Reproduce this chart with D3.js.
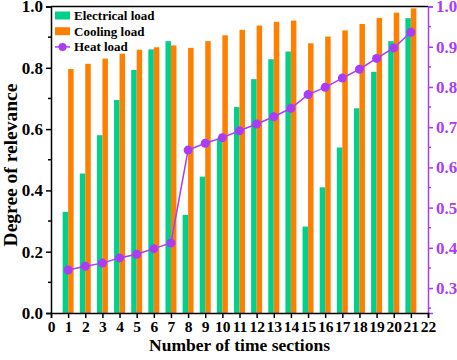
<!DOCTYPE html>
<html>
<head>
<meta charset="utf-8">
<script src="https://cdn.jsdelivr.net/npm/d3@7"></script>
<style>
  body { margin: 0; background: #fff; }
  svg text { font-family: "Liberation Serif", "Times New Roman", serif; font-weight: bold; }
</style>
</head>
<body>
<script>
// time sections and the three series
const sections = d3.range(1, 22);
const electrical = [0.33, 0.455, 0.58, 0.695, 0.793, 0.86, 0.887, 0.32, 0.445, 0.57, 0.672,
  0.763, 0.828, 0.853, 0.282, 0.41, 0.54, 0.668, 0.787, 0.887, 0.962];
const cooling = [0.796, 0.813, 0.83, 0.846, 0.859, 0.867, 0.873, 0.865, 0.887, 0.906, 0.924,
  0.938, 0.95, 0.954, 0.88, 0.902, 0.922, 0.943, 0.963, 0.98, 0.994];
const heat = [0.345, 0.354, 0.362, 0.375, 0.384, 0.398, 0.412, 0.643, 0.66, 0.674, 0.691,
  0.708, 0.726, 0.747, 0.781, 0.799, 0.822, 0.844, 0.871, 0.897, 0.936];
const xTicks = d3.range(0, 23);
const leftTicks = [0, 0.2, 0.4, 0.6, 0.8, 1.0];
const leftMinor = [0.1, 0.3, 0.5, 0.7, 0.9];
const rightTicks = [0.3, 0.4, 0.5, 0.6, 0.7, 0.8, 0.9, 1.0];
const rightMinor = [0.25, 0.35, 0.45, 0.55, 0.65, 0.75, 0.85, 0.95];

const W = 457, H = 360;
const pLeft = 51, pRight = 428, pTop = 6.5, pBottom = 313;
const green = "#00d08a", orange = "#ff8000", purple = "#aa3cf6";

const svg = d3.select("body").append("svg")
  .attr("width", W).attr("height", H);

const x = d3.scaleLinear().domain([0, 22]).range([pLeft, pRight]);
const y = d3.scaleLinear().domain([0, 1]).range([pBottom, pTop]);
const y2 = d3.scaleLinear().domain([0.238, 1.0]).range([pBottom, pTop]);

const bw = x(0.32) - x(0);

// bars
svg.append("g").selectAll("rect")
  .data(electrical)
  .enter().append("rect")
  .attr("x", (d, i) => x(sections[i]) - bw)
  .attr("y", d => y(d))
  .attr("width", bw)
  .attr("height", d => y(0) - y(d))
  .attr("fill", green);

svg.append("g").selectAll("rect")
  .data(cooling)
  .enter().append("rect")
  .attr("x", (d, i) => x(sections[i]))
  .attr("y", d => y(d))
  .attr("width", bw)
  .attr("height", d => y(0) - y(d))
  .attr("fill", orange);

// heat load line
const line = d3.line()
  .x((d, i) => x(sections[i]))
  .y(d => y2(d));

svg.append("path")
  .datum(heat)
  .attr("d", line)
  .attr("fill", "none")
  .attr("stroke", purple)
  .attr("stroke-width", 1.5);

svg.append("g").selectAll("circle")
  .data(heat)
  .enter().append("circle")
  .attr("cx", (d, i) => x(sections[i]))
  .attr("cy", d => y2(d))
  .attr("r", 4.5)
  .attr("fill", purple);

// top frame line
svg.append("line")
  .attr("x1", pLeft).attr("x2", pRight)
  .attr("y1", pTop).attr("y2", pTop)
  .attr("stroke", "#000").attr("stroke-width", 1.5);

// left axis
const yAxis = d3.axisLeft(y).tickValues(leftTicks).tickFormat(d3.format(".1f")).tickSize(5).tickPadding(3);
const gy = svg.append("g").attr("transform", `translate(${pLeft},0)`).call(yAxis);
gy.selectAll("line.minor").data(leftMinor).enter().append("line")
  .attr("class", "minor")
  .attr("x1", -3).attr("x2", 0)
  .attr("y1", d => y(d)).attr("y2", d => y(d))
  .attr("stroke", "#000").attr("stroke-width", 1.5);

// right axis
const yAxis2 = d3.axisRight(y2).tickValues(rightTicks).tickFormat(d3.format(".1f")).tickSize(5).tickPadding(3);
const gy2 = svg.append("g").attr("transform", `translate(${pRight},0)`).call(yAxis2);
gy2.selectAll("line.minor").data(rightMinor).enter().append("line")
  .attr("class", "minor")
  .attr("x1", 0).attr("x2", 3)
  .attr("y1", d => y2(d)).attr("y2", d => y2(d))
  .attr("stroke", purple).attr("stroke-width", 1.5);

// bottom axis
const xAxis = d3.axisBottom(x).tickValues(xTicks).tickFormat(d3.format("d")).tickSize(5).tickPadding(3);
const gx = svg.append("g").attr("transform", `translate(0,${pBottom})`).call(xAxis);

[gy, gx, gy2].forEach(g => g.attr("font-family", null).attr("font-size", null));

[gy, gx].forEach(g => {
  g.select(".domain").attr("stroke", "#000").attr("stroke-width", 1.5);
  g.selectAll(".tick line").attr("stroke", "#000").attr("stroke-width", 1.5);
  g.selectAll(".tick text").attr("fill", "#000").style("font-size", "17px");
});
gx.selectAll(".tick text").style("font-size", "15.5px");
gy2.select(".domain").attr("stroke", purple).attr("stroke-width", 1.5);
gy2.selectAll(".tick line").attr("stroke", purple).attr("stroke-width", 1.5);
gy2.selectAll(".tick text").attr("fill", purple).style("font-size", "17px");

// axis titles
svg.append("text")
  .attr("x", (pLeft + pRight) / 2).attr("y", 351)
  .attr("text-anchor", "middle")
  .style("font-size", "17.5px")
  .text("Number of time sections");

svg.append("text")
  .attr("transform", `translate(17,165) rotate(-90)`)
  .attr("text-anchor", "middle")
  .style("font-size", "19.5px")
  .text("Degree of relevance");

// legend
const legend = [
  { name: "Electrical load", type: "bar", color: green },
  { name: "Cooling load", type: "bar", color: orange },
  { name: "Heat load", type: "line", color: purple }
];
const lg = svg.append("g").selectAll("g")
  .data(legend)
  .enter().append("g")
  .attr("transform", (d, i) => `translate(55,${15.5 + i * 15.7})`);

lg.filter(d => d.type === "bar").append("rect")
  .attr("x", 0).attr("y", -4).attr("width", 15).attr("height", 8)
  .attr("fill", d => d.color);
lg.filter(d => d.type === "line").append("line")
  .attr("x1", 0).attr("x2", 15).attr("y1", 0).attr("y2", 0)
  .attr("stroke", d => d.color).attr("stroke-width", 1.5);
lg.filter(d => d.type === "line").append("circle")
  .attr("cx", 7.5).attr("cy", 0).attr("r", 4)
  .attr("fill", d => d.color);
lg.append("text")
  .attr("x", 19).attr("y", 0).attr("dy", "0.35em")
  .style("font-size", "13px")
  .text(d => d.name);
</script>
</body>
</html>
